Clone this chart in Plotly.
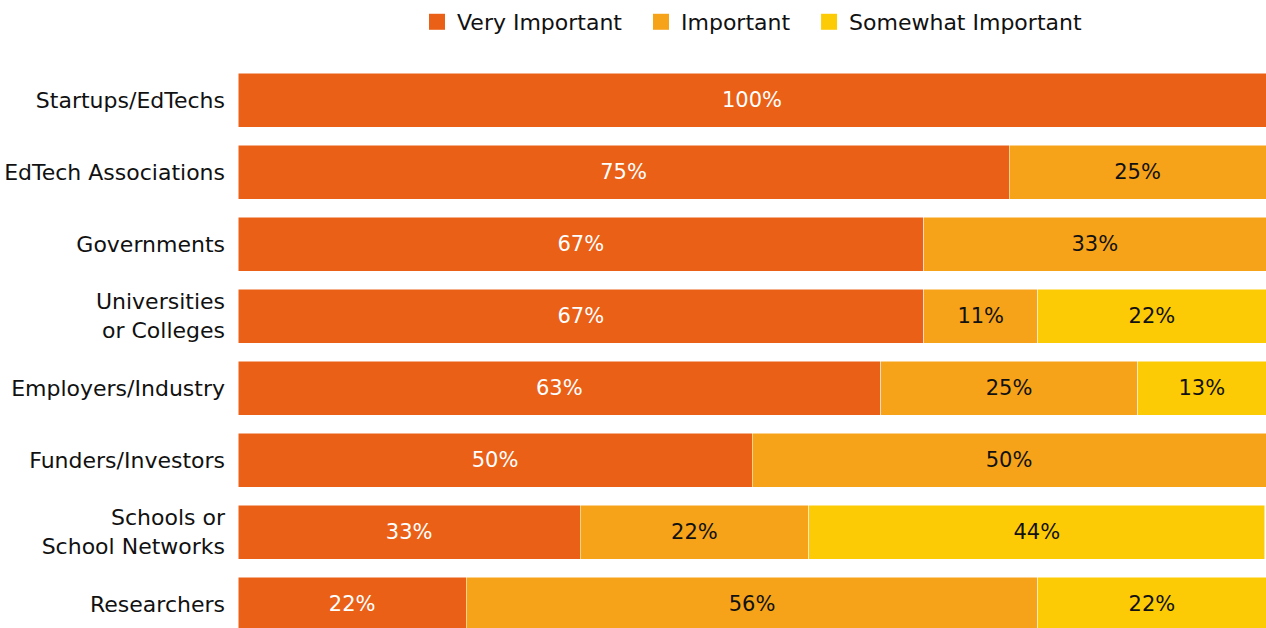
import plotly.graph_objects as go

categories = ["Startups/EdTechs", "EdTech Associations", "Governments",
              "Universities<br>or Colleges", "Employers/Industry", "Funders/Investors",
              "Schools or<br>School Networks", "Researchers"]
very_important = [100, 75, 66.7, 66.7, 62.5, 50, 33.3, 22.2]
important = [0, 25, 33.3, 11.1, 25, 50, 22.2, 55.6]
somewhat_important = [0, 0, 0, 22.2, 12.5, 0, 44.4, 22.2]
series_names = ["Very Important", "Important", "Somewhat Important"]

FONT = "DejaVu Sans"
NBSP = "\u00a0"
series = [
    (series_names[0], very_important, "#EA6017", "white", NBSP * 2),
    (series_names[1], important, "#F6A319", "#111111", NBSP * 2),
    (series_names[2], somewhat_important, "#FDCB05", "#111111", ""),
]


def pct(v):
    # round half up
    return f"{int(v + 0.5)}%" if v > 0 else ""


fig = go.Figure()
for name, vals, color, tcolor, pad in series:
    fig.add_trace(go.Bar(
        y=categories, x=vals, name=name, orientation="h",
        marker=dict(color=color, line=dict(color="white", width=0.5)),
        text=[pct(v) for v in vals],
        textposition="inside", insidetextanchor="middle",
        textfont=dict(color=tcolor, size=21, family=FONT),
        hoverinfo="skip", showlegend=False,
    ))
    # legend entry with a larger square swatch
    fig.add_trace(go.Scatter(
        x=[None], y=[None], mode="markers", name=name + pad,
        marker=dict(symbol="square", size=17, color=color),
        hoverinfo="skip",
    ))

fig.update_layout(
    barmode="stack", bargap=0.25,
    width=1266, height=628,
    margin=dict(l=238, r=0, t=64, b=0),
    paper_bgcolor="white", plot_bgcolor="white",
    font=dict(family=FONT, size=22, color="#111111"),
    uniformtext=dict(mode="show", minsize=10),
    legend=dict(orientation="h", xref="paper", x=0.5, xanchor="center",
                yref="container", y=0.965, yanchor="middle",
                font=dict(size=22), traceorder="normal", itemwidth=30),
    xaxis=dict(range=[0, 100], visible=False, fixedrange=True),
    yaxis=dict(categoryorder="array", categoryarray=categories,
               range=[7.333, -0.5], showgrid=False, zeroline=False,
               ticks="", ticklabelstandoff=12, showline=False),
)

fig.write_html("out.html")
